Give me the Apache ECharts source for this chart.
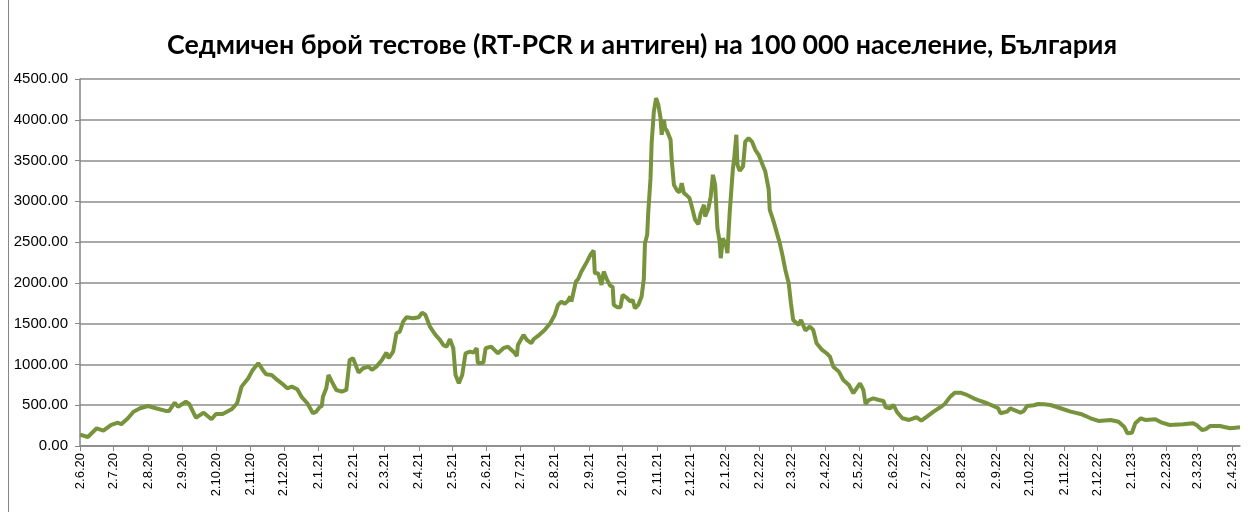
<!DOCTYPE html>
<html>
<head>
<meta charset="utf-8">
<script src="https://cdn.jsdelivr.net/npm/echarts@6/dist/echarts.min.js"></script>
<style>
html,body{margin:0;padding:0;background:#fff;}
#chart{width:1251px;height:512px;}
</style>
</head>
<body>
<div id="chart"></div>
<script>
const titleText = 'Седмичен брой тестове (RT-PCR и антиген) на 100 000 население, България';
const startDate = [2020, 6, 2];
const endDay = 1041;
const tickLabels = ['2.6.20','2.7.20','2.8.20','2.9.20','2.10.20','2.11.20','2.12.20','2.1.21','2.2.21','2.3.21','2.4.21','2.5.21','2.6.21','2.7.21','2.8.21','2.9.21','2.10.21','2.11.21','2.12.21','2.1.22','2.2.22','2.3.22','2.4.22','2.5.22','2.6.22','2.7.22','2.8.22','2.9.22','2.10.22','2.11.22','2.12.22','2.1.23','2.2.23','2.3.23','2.4.23'];
// days since 2.6.20
const dayIdx = [0,1,7,15,21,28,34,37,43,48,54,61,68,77,80,85,88,95,98,104,111,118,122,128,136,141,145,151,155,160,164,167,172,177,
181,186,190,195,199,204,206,209,212,215,217,218,221,223,226,230,235,239,242,245,250,254,259,262,266,271,275,277,281,284,287,290,293,299,304,307,310,314,319,323,326,329,332,335,337,340,343,346,350,
353,356,357,362,364,369,375,380,384,389,392,393,398,401,405,407,411,417,422,426,429,432,435,438,440,441,445,447,450,455,458,461,462,465,468,470,473,476,478,479,482,485,487,491,494,496,498,501,504,506,507,509,510,512,513,514,515,517,519,521,522,524,525,527,530,531,533,536,538,540,542,544,547,549,552,555,557,560,561,564,566,568,570,572,574,575,577,580,581,583,586,587,589,590,592,595,597,600,603,606,609,612,615,618,619,622,628,630,633,636,638,640,645,647,651,655,658,661,666,670,673,676,681,685,690,694,696,700,703,705,708,712,717,721,723,727,730,733,738,744,748,751,755,760,766,772,776,781,785,790,796,802,808,814,821,824,826,832,835,838,844,847,850,856,860,865,871,880,889,898,907,914,925,932,937,940,944,947,952,956,965,971,978,990,999,1002,1007,1010,1014,1023,1032,1037,1041];
const testsPer100k = [140,143,110,217,188,258,286,266,340,421,463,491,463,430,430,531,482,543,515,347,409,327,393,393,450,524,728,831,933,1015,933,880,871,810,
769,708,728,696,598,524,475,401,421,475,490,605,708,871,789,687,666,687,1055,1076,900,953,973,933,973,1055,1145,1076,1157,1383,1402,1525,1579,1567,1579,1636,1607,1464,1362,1301,1239,1218,1310,1199,871,769,871,1137,1157,
1145,1199,1015,1022,1199,1218,1137,1199,1218,1157,1104,1239,1362,1301,1260,1309,1350,1423,1506,1607,1730,1771,1742,1783,1832,1771,2016,2045,2139,2261,2344,2396,2119,2119,1975,2139,2037,1963,1955,1730,1702,1702,1853,1812,1771,1791,1689,1730,1832,2050,2487,2589,2875,3284,3713,3733,4102,4266,4184,4020,3816,4000,3898,3857,3755,3509,3202,3128,3112,3223,3100,3080,3039,2936,2773,2720,2855,2957,2814,2916,3059,3325,3202,2671,2507,2303,2549,2445,2364,2855,3415,3509,3816,3448,3374,3427,3733,3775,3733,3632,3570,3468,3365,3150,2896,2773,2487,2364,2159,1996,1751,1546,1485,1546,1415,1464,1423,1260,1178,1137,1096,973,912,810,748,647,687,769,687,515,564,585,564,552,475,463,503,421,340,319,340,352,310,360,421,475,515,605,654,654,626,585,552,524,482,463,401,421,463,442,409,430,491,500,515,512,503,463,421,393,340,307,319,298,237,156,163,278,340,319,328,286,258,266,278,258,196,205,245,245,217,225,229];

const DAY = 86400000;
const base = Date.UTC(startDate[0], startDate[1]-1, startDate[2]);
function labelToDay(s){ const p=s.split('.').map(Number); return Math.round((Date.UTC(2000+p[2], p[1]-1, p[0]) - base)/DAY); }
const tickDays = tickLabels.map(labelToDay);
const labelMap = {}; tickLabels.forEach((l,i)=>{labelMap[tickDays[i]]=l;});
const seriesData = dayIdx.map((d,i)=>[d, testsPer100k[i]]);

const chart = echarts.init(document.getElementById('chart'), null, {renderer:'canvas'});
chart.setOption({
  animation:false,
  backgroundColor:'#fff',
  title:{text:titleText,left:162,top:27,textStyle:{fontFamily:'Lato',fontWeight:'bold',fontSize:26.8,color:'#000'}},
  grid:{left:80,right:11,top:79,bottom:66,containLabel:false},
  xAxis:{
    type:'value', min:0, max:endDay,
    axisLine:{show:true,lineStyle:{color:'#868686',width:1.5}},
    axisTick:{show:true,customValues:tickDays,length:5,lineStyle:{color:'#868686'}},
    axisLabel:{customValues:tickDays,rotate:90,formatter:v=>labelMap[v]||'',fontFamily:'Liberation Sans',fontSize:13,color:'#000',margin:7},
    splitLine:{show:false}
  },
  yAxis:{
    type:'value',min:0,max:4500,interval:500,
    axisLine:{show:true,lineStyle:{color:'#868686',width:1.5}},
    axisTick:{show:true,length:5,lineStyle:{color:'#868686'}},
    axisLabel:{formatter:v=>v.toFixed(2),fontFamily:'Liberation Sans',fontSize:15,color:'#000',margin:12},
    splitLine:{show:true,lineStyle:{color:'#8c8c8c',width:1.5}}
  },
  series:[{type:'line',data:seriesData,showSymbol:false,lineStyle:{color:'#77933C',width:4},itemStyle:{color:'#77933C'}}],
  graphic:[{type:'line',shape:{x1:8.5,y1:0,x2:8.5,y2:512},style:{stroke:'#868686',lineWidth:1}}]
});
</script>
</body>
</html>
